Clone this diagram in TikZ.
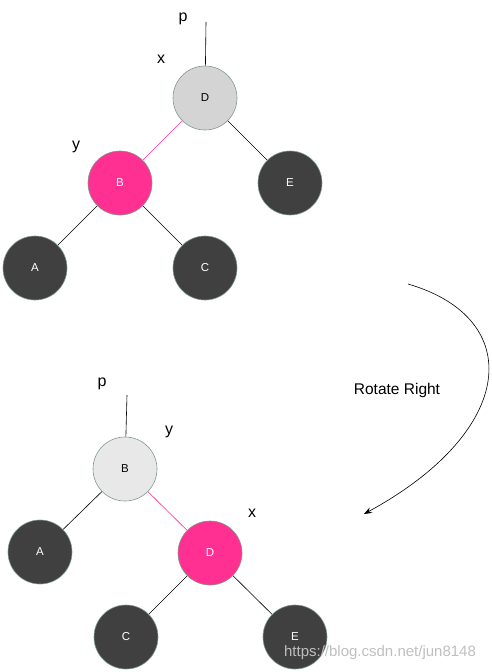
\documentclass[tikz,border=0pt]{standalone}
\usepackage{fontspec}
\setmainfont{Liberation Sans}
\usetikzlibrary{arrows.meta}
\definecolor{pinkc}{HTML}{FF3092}
\definecolor{darkc}{HTML}{404040}
\definecolor{lgA}{HTML}{D4D4D4}
\definecolor{lgB}{HTML}{E8E8E8}
\definecolor{bordc}{HTML}{7F9A8C}
\begin{document}
\begin{tikzpicture}[x=1pt,y=-1pt,
  tnode/.style={circle,draw=bordc,line width=0.6pt,minimum size=64pt,inner sep=0pt,font=\fontsize{11.5}{13}\selectfont},
  blk/.style={tnode,fill=darkc,text=white},
  red/.style={tnode,fill=pinkc,text=white},
  gry/.style={tnode,text=black},
  lbl/.style={font=\fontsize{16}{18}\selectfont,inner sep=0pt},
  edge/.style={line width=0.6pt,draw=black},
  redge/.style={line width=0.6pt,draw=pinkc}]
\useasboundingbox (0,0) rectangle (491,672);
% top tree
\node[gry,fill=lgA] (tD) at (205,98) {D};
\node[red] (tB) at (120,183) {B};
\node[blk] (tE) at (290,183) {E};
\node[blk] (tA) at (35,268) {A};
\node[blk] (tC) at (205,268) {C};
\coordinate (tp) at (206,22);
\node[lbl] (tpl) at (183,19) {p};
\node[lbl] (txl) at (161,59) {x};
\node[lbl] (tyl) at (76,147) {y};
\draw[edge] (tp) -- (tD);
\draw[redge] (tD) -- (tB);
\draw[edge] (tD) -- (tE);
\draw[edge] (tB) -- (tA);
\draw[edge] (tB) -- (tC);
% arrow
\coordinate (as) at (408,284);
\coordinate (ae) at (364,514);
\draw[line width=0.6pt,-{Stealth[length=8pt,width=6pt]}] (as) .. controls (525,318) and (518,430) .. (ae);
\node[font=\fontsize{15.5}{18}\selectfont,inner sep=0pt] (rot) at (397,390) {Rotate Right};
% bottom tree
\node[gry,fill=lgB] (bB) at (125,469) {B};
\node[red] (bD) at (210,553) {D};
\node[blk] (bA) at (40,552) {A};
\node[blk] (bC) at (126,637) {C};
\node[blk] (bE) at (295,637) {E};
\coordinate (bp) at (127,395);
\node[lbl] (bpl) at (102,384) {p};
\node[lbl] (byl) at (169,432) {y};
\node[lbl] (bxl) at (252,513) {x};
\draw[edge] (bp) -- (bB);
\draw[redge] (bB) -- (bD);
\draw[edge] (bB) -- (bA);
\draw[edge] (bD) -- (bC);
\draw[edge] (bD) -- (bE);
% watermark
\node[font=\fontsize{15}{17}\selectfont,text=black!25,inner sep=0pt] (wm) at (380,653) {https://blog.csdn.net/jun8148};
\end{tikzpicture}
\end{document}
